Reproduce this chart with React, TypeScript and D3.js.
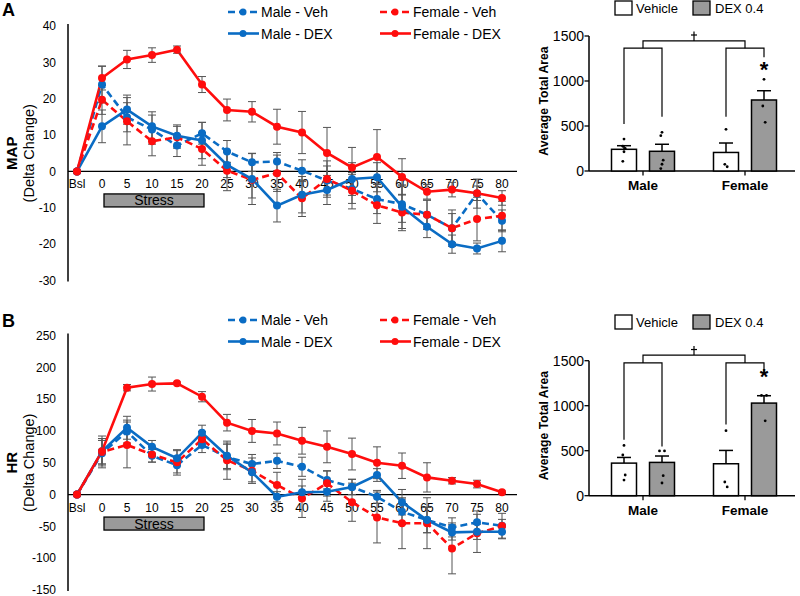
import React from "react";
import * as d3 from "d3";

const FONT = "'Liberation Sans', Arial, Helvetica, sans-serif";
const BLUE = "#0a6cc4";
const RED = "#ff0d0d";

const timeLabels = ["Bsl", "0", "5", "10", "15", "20", "25", "30", "35", "40", "45", "50", "55", "60", "65", "70", "75", "80"];

const mapMaleVeh = [0, 23.9, 14.9, 11.5, 7.1, 10.5, 5.5, 2.5, 2.7, 0.2, -2.5, -4.8, -7.6, -9, -11.9, -15.6, -6.1, -13.6];
const mapMaleVehErr = [0, 5, 4, 4, 3, 3, 3, 2.5, 2.5, 3, 4, 4, 4, 5, 4, 4, 4, 3];
const mapFemaleVeh = [0, 19.7, 13.8, 8.3, 9.4, 6.2, 0.2, -2.3, -0.5, -7.4, -2.1, -5.3, -9.3, -11.3, -11.9, -15.6, -13.1, -12.2];
const mapFemaleVehErr = [0, 4, 6.5, 4, 3, 4.5, 5.5, 5, 5, 5, 5, 5, 5, 5, 4, 5, 6, 4];
const mapMaleDex = [0, 12.4, 17, 12.4, 9.8, 8.5, 1.8, -2.1, -9.4, -6.4, -5.1, -2.1, -1.6, -9.7, -15.2, -20, -21.2, -19.1];
const mapMaleDexErr = [0, 4.5, 4, 4, 3, 5, 3.5, 7, 4.5, 5, 4, 4.5, 4, 6, 3, 2.5, 1.5, 3];
const mapFemaleDex = [0, 25.7, 30.8, 32, 33.5, 23.9, 16.9, 16.4, 12.3, 10.7, 5.1, 1.1, 4.0, -1.5, -5.6, -5.0, -6.0, -7.3];
const mapFemaleDexErr = [0, 3.3, 2.5, 2, 1, 2.2, 3, 2.8, 4.8, 5.8, 7, 5.5, 7.5, 5, 2, 2, 2, 2];

const hrMaleVeh = [0, 65, 99, 61, 46, 78, 59, 48, 53, 43.7, 22.8, 12, -3.5, -27, -40, -51.6, -43.7, -49];
const hrMaleVehErr = [0, 20, 18, 10, 12, 12, 20, 15, 12, 15, 14, 12, 10, 20, 20, 15, 18, 10];
const hrFemaleVeh = [0, 67, 78, 63, 50.6, 87, 54, 37.5, 15, -6, 17.6, -12, -36, -45, -45, -84.6, -61, -49.5];
const hrFemaleVehErr = [0, 25, 36, 12, 20, 12, 30, 20, 20, 30, 20, 30, 40, 40, 40, 40, 30, 20];
const hrMaleDex = [0, 68, 105, 75, 57, 97, 61, 35, -3.5, 3.5, 4.5, 12, 30.7, -12, -40, -59.5, -58.5, -58.5];
const hrMaleDexErr = [0, 20, 18, 10, 12, 12, 20, 15, 8, 10, 15, 12, 10, 20, 20, 12, 12, 10];
const hrFemaleDex = [0, 68, 168, 173.7, 174.8, 153.8, 113, 100, 96, 84.6, 75, 63.7, 50, 45.3, 27, 21.7, 16.5, 3.5];
const hrFemaleDexErr = [0, 20, 5, 11, 2, 8, 13, 18, 18, 21, 25, 25, 25, 20, 23, 5, 6, 2];

const mapTicks = [40, 30, 20, 10, 0, -10, -20, -30];
const hrTicks = [250, 200, 150, 100, 50, 0, -50, -100, -150];

const groups = ["Male", "Female"];
const treatments = ["Vehicle", "DEX 0.4"];
const barTicks = [0, 500, 1000, 1500];

const mapBarVeh = [241, 206];
const mapBarVehErr = [40, 105];
const mapBarDex = [219, 789];
const mapBarDexErr = [78, 103];
const mapDotsVeh = [[355, 275, 250, 214, 108], [463, 74, 47]];
const mapDotsDex = [[430, 392, 120, 75, 27], [1019, 722, 541]];

const hrBarVeh = [362, 355];
const hrBarVehErr = [63, 148];
const hrBarDex = [370, 1029];
const hrBarDexErr = [71, 82];
const hrDotsVeh = [[559, 452, 230, 174], [722, 152, 97]];
const hrDotsDex = [[497, 497, 222, 141], [1114, 1114, 832]];

type Series = { name: string; values: number[]; err: number[]; color: string; dashed: boolean };

function LineChart(props: {
  letter: string; letterY: number; yLabel: string; domain: [number, number]; range: [number, number];
  ticks: number[]; series: Series[]; legendY: number;
}) {
  const { letter, letterY, yLabel, domain, range, ticks, series, legendY } = props;
  const x = d3.scalePoint<string>().domain(timeLabels).range([77, 502]);
  const y = d3.scaleLinear().domain(domain).range(range);
  const zero = y(0);
  const line = d3.line<number>().x((_, i) => x(timeLabels[i]) as number).y((v) => y(v));
  const midY = (range[0] + range[1]) / 2;
  const bx0 = (x("0") as number) + 2;
  const bx1 = (x("20") as number) + 2;
  const legendItems = [
    { s: series[0], lx: 228, row: 0 },
    { s: series[1], lx: 380, row: 0 },
    { s: series[2], lx: 228, row: 1 },
    { s: series[3], lx: 380, row: 1 },
  ];
  return (
    <g fontFamily={FONT}>
      <text x={2} y={letterY} fontSize={18} fontWeight="bold">{letter}</text>
      <text transform={`translate(17,${midY}) rotate(-90)`} textAnchor="middle" fontSize={15} fontWeight="bold">{yLabel}</text>
      <text transform={`translate(34,${midY}) rotate(-90)`} textAnchor="middle" fontSize={14.5}>(Delta Change)</text>
      {ticks.map((t) => (
        <text key={t} x={56} y={y(t)} dy="0.35em" textAnchor="end" fontSize={12}>{t}</text>
      ))}
      <line x1={68} x2={68} y1={range[1] - 2} y2={range[0] + 1} stroke="#000" strokeWidth={1.5} />
      <line x1={68} x2={517} y1={zero} y2={zero} stroke="#000" strokeWidth={1.2} />
      {timeLabels.map((t) => (
        <text key={t} x={x(t)} y={zero + 17} textAnchor="middle" fontSize={12}>{t}</text>
      ))}
      <rect x={bx0} y={zero + 22.5} width={bx1 - bx0} height={13} fill="#9a9a9a" stroke="#000" strokeWidth={1.3} />
      <text x={(bx0 + bx1) / 2} y={zero + 34} textAnchor="middle" fontSize={14}>Stress</text>
      {series.map((s) => (
        <path key={s.name} d={line(s.values) as string} fill="none" stroke={s.color} strokeWidth={2.6}
          strokeDasharray={s.dashed ? "7,4" : undefined} />
      ))}
      {series.map((s) => (
        <g key={s.name + "e"} stroke="#555" strokeWidth={1}>
          {s.values.map((v, i) => {
            if (s.err[i] === 0) return null;
            const cx = x(timeLabels[i]) as number;
            const y1 = y(v + s.err[i]);
            const y2 = y(v - s.err[i]);
            return (
              <g key={i}>
                <line x1={cx} x2={cx} y1={y1} y2={y2} />
                <line x1={cx - 4} x2={cx + 4} y1={y1} y2={y1} />
                <line x1={cx - 4} x2={cx + 4} y1={y2} y2={y2} />
              </g>
            );
          })}
        </g>
      ))}
      {series.map((s) => (
        <g key={s.name + "m"} fill={s.color}>
          {s.values.map((v, i) => (
            <circle key={i} cx={x(timeLabels[i])} cy={y(v)} r={4} />
          ))}
        </g>
      ))}
      {legendItems.map(({ s, lx, row }) => {
        const ly = legendY + row * 21.5;
        return (
          <g key={s.name + "l"}>
            <line x1={lx} x2={lx + 31} y1={ly} y2={ly} stroke={s.color} strokeWidth={2.6} strokeDasharray={s.dashed ? "7,4" : undefined} />
            <circle cx={lx + 15} cy={ly} r={3.5} fill={s.color} />
            <text x={lx + 33} y={ly} dy="0.36em" fontSize={14}>{s.name}</text>
          </g>
        );
      })}
    </g>
  );
}

function BarChart(props: {
  zeroY: number; legendY: number; veh: number[]; vehErr: number[]; dex: number[]; dexErr: number[];
  dotsVeh: number[][]; dotsDex: number[][]; bracketY: number; topY: number; tipY: number;
  legs: number[]; starY: number;
}) {
  const { zeroY, legendY, veh, vehErr, dex, dexErr, dotsVeh, dotsDex, bracketY, topY, tipY, legs, starY } = props;
  const y = d3.scaleLinear().domain([0, 1500]).range([zeroY, zeroY - 135]);
  const xg = d3.scaleBand<string>().domain(groups).range([592, 796]);
  const xs = d3.scalePoint<string>().domain(treatments).range([-19, 19]);
  const gc = (g: string) => (xg(g) as number) + xg.bandwidth() / 2;
  const bw = 25;
  const jitter = [0, -3, 3, 0, -3, 3];
  const bars = groups.flatMap((g, gi) => [
    { g, t: treatments[0], v: veh[gi], e: vehErr[gi], dots: dotsVeh[gi], fill: "#fff" },
    { g, t: treatments[1], v: dex[gi], e: dexErr[gi], dots: dotsDex[gi], fill: "#9a9a9a" },
  ]);
  const bc = (b: { g: string; t: string }) => gc(b.g) + (xs(b.t) as number);
  return (
    <g fontFamily={FONT}>
      {/* legend */}
      <rect x={615} y={legendY} width={17} height={14} fill="#fff" stroke="#000" strokeWidth={1.3} />
      <text x={636} y={legendY + 7} dy="0.36em" fontSize={13}>Vehicle</text>
      <rect x={693} y={legendY} width={17} height={14} fill="#9a9a9a" stroke="#000" strokeWidth={1.3} />
      <text x={715} y={legendY + 7} dy="0.36em" fontSize={13}>DEX 0.4</text>
      <text transform={`translate(548,${zeroY - 70}) rotate(-90)`} textAnchor="middle" fontSize={12.2} fontWeight="bold">Average Total Area</text>
      {barTicks.map((t) => (
        <g key={t}>
          <line x1={584.5} x2={589} y1={y(t)} y2={y(t)} stroke="#000" strokeWidth={1.3} />
          <text x={584} y={y(t)} dy="0.36em" textAnchor="end" fontSize={14}>{t}</text>
        </g>
      ))}
      <line x1={589} x2={589} y1={y(1500)} y2={y(0)} stroke="#000" strokeWidth={1.5} />
      <line x1={589} x2={795} y1={y(0)} y2={y(0)} stroke="#000" strokeWidth={1.5} />
      {groups.map((g) => (
        <g key={g}>
          <line x1={gc(g)} x2={gc(g)} y1={y(0)} y2={y(0) + 4.5} stroke="#000" strokeWidth={1.3} />
          <text x={gc(g)} y={y(0) + 19} textAnchor="middle" fontSize={13.5} fontWeight="bold">{g}</text>
        </g>
      ))}
      {bars.map((b, i) => {
        const cx = bc(b);
        return (
          <g key={i}>
            <line x1={cx} x2={cx} y1={y(b.v)} y2={y(b.v + b.e)} stroke="#000" strokeWidth={1.5} />
            <line x1={cx - 7} x2={cx + 7} y1={y(b.v + b.e)} y2={y(b.v + b.e)} stroke="#000" strokeWidth={1.5} />
            <rect x={cx - bw / 2} y={y(b.v)} width={bw} height={y(0) - y(b.v)} fill={b.fill} stroke="#000" strokeWidth={1.5} />
            {b.dots.map((d, j) => {
              const dup = b.dots.filter((o) => o === d).length > 1;
              const off = dup ? (b.dots.indexOf(d) === j ? -2.5 : 2.5) : jitter[j % jitter.length] * 0.4;
              return <circle key={j} cx={cx + off} cy={y(d)} r={1.4} fill="#000" />;
            })}
          </g>
        );
      })}
      {/* brackets */}
      <g stroke="#000" strokeWidth={1.2} fill="none">
        {groups.map((g, gi) => {
          const l = bc({ g, t: treatments[0] });
          const r = bc({ g, t: treatments[1] });
          return (
            <path key={g} d={`M${l},${y(legs[gi * 2])}V${y(bracketY)}H${r}V${y(legs[gi * 2 + 1])}`} />
          );
        })}
        <path d={`M${gc("Male")},${y(bracketY)}V${y(topY)}H${gc("Female")}V${y(bracketY)}`} />
        <line x1={(gc("Male") + gc("Female")) / 2} x2={(gc("Male") + gc("Female")) / 2} y1={y(topY)} y2={y(tipY)} />
        <line x1={(gc("Male") + gc("Female")) / 2 - 3} x2={(gc("Male") + gc("Female")) / 2 + 3} y1={y(tipY) + 3.5} y2={y(tipY) + 3.5} />
      </g>
      <text x={bc({ g: "Female", t: treatments[1] })} y={y(starY) + 9} textAnchor="middle" fontSize={22} fontWeight="bold">*</text>
    </g>
  );
}

export default function App() {
  const mapSeries: Series[] = [
    { name: "Male - Veh", values: mapMaleVeh, err: mapMaleVehErr, color: BLUE, dashed: true },
    { name: "Female - Veh", values: mapFemaleVeh, err: mapFemaleVehErr, color: RED, dashed: true },
    { name: "Male - DEX", values: mapMaleDex, err: mapMaleDexErr, color: BLUE, dashed: false },
    { name: "Female - DEX", values: mapFemaleDex, err: mapFemaleDexErr, color: RED, dashed: false },
  ];
  const hrSeries: Series[] = [
    { name: "Male - Veh", values: hrMaleVeh, err: hrMaleVehErr, color: BLUE, dashed: true },
    { name: "Female - Veh", values: hrFemaleVeh, err: hrFemaleVehErr, color: RED, dashed: true },
    { name: "Male - DEX", values: hrMaleDex, err: hrMaleDexErr, color: BLUE, dashed: false },
    { name: "Female - DEX", values: hrFemaleDex, err: hrFemaleDexErr, color: RED, dashed: false },
  ];
  return (
    <div style={{ position: "absolute", left: 0, top: 0 }}>
      <svg width={800} height={596} style={{ display: "block", background: "#fff" }}>
        <LineChart letter="A" letterY={16} yLabel="MAP" domain={[-30, 40]} range={[280.5, 26]} ticks={mapTicks} series={mapSeries} legendY={12} />
        <LineChart letter="B" letterY={327} yLabel="HR" domain={[-150, 250]} range={[590, 335.5]} ticks={hrTicks} series={hrSeries} legendY={320} />
        <BarChart zeroY={171} legendY={1} veh={mapBarVeh} vehErr={mapBarVehErr} dex={mapBarDex} dexErr={mapBarDexErr}
          dotsVeh={mapDotsVeh} dotsDex={mapDotsDex} bracketY={1365} topY={1445} tipY={1550}
          legs={[522, 603, 603, 1265]} starY={1140} />
        <BarChart zeroY={495.7} legendY={315} veh={hrBarVeh} vehErr={hrBarVehErr} dex={hrBarDex} dexErr={hrBarDexErr}
          dotsVeh={hrDotsVeh} dotsDex={hrDotsDex} bracketY={1475} topY={1563} tipY={1663}
          legs={[622, 548, 790, 1380]} starY={1345} />
      </svg>
    </div>
  );
}
